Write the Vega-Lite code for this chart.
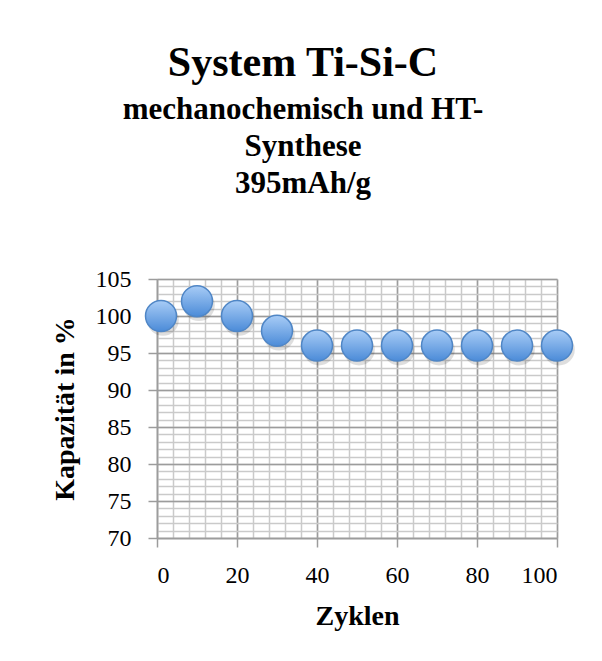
{
  "$schema": "https://vega.github.io/schema/vega-lite/v6.json",
  "width": 400,
  "height": 259,
  "autosize": {"type": "none"},
  "padding": {"left": 157, "top": 279, "right": 45, "bottom": 124},
  "background": "white",
  "title": {
    "text": "System Ti-Si-C",
    "subtitle": ["mechanochemisch und HT-", "Synthese", "395mAh/g"],
    "anchor": "middle",
    "dx": -54,
    "offset": 67,
    "font": "Liberation Serif",
    "fontSize": 42,
    "fontWeight": "bold",
    "color": "black",
    "subtitleFont": "Liberation Serif",
    "subtitleFontSize": 31,
    "subtitleFontWeight": "bold",
    "subtitleColor": "black",
    "subtitleLineHeight": 37,
    "subtitlePadding": 10
  },
  "data": {
    "values": [
      {"Zyklen": 1, "Kapazitaet": 100},
      {"Zyklen": 10, "Kapazitaet": 102},
      {"Zyklen": 20, "Kapazitaet": 100},
      {"Zyklen": 30, "Kapazitaet": 98},
      {"Zyklen": 40, "Kapazitaet": 96},
      {"Zyklen": 50, "Kapazitaet": 96},
      {"Zyklen": 60, "Kapazitaet": 96},
      {"Zyklen": 70, "Kapazitaet": 96},
      {"Zyklen": 80, "Kapazitaet": 96},
      {"Zyklen": 90, "Kapazitaet": 96},
      {"Zyklen": 100, "Kapazitaet": 96}
    ]
  },
  "layer": [
    {
      "mark": {"type": "point", "filled": true, "shape": "circle", "size": 1000, "color": "black", "opacity": 0.13, "xOffset": 2, "yOffset": 4},
      "encoding": {
        "x": {
          "field": "Zyklen", "type": "quantitative",
          "scale": {"domain": [0, 100], "nice": false},
          "axis": {"orient": "bottom", "values": [0,4,8,12,16,20,24,28,32,36,40,44,48,52,56,60,64,68,72,76,80,84,88,92,96,100], "grid": true, "gridColor": "#cacaca", "gridWidth": 1.5, "labels": false, "ticks": false, "domain": false, "title": null}
        },
        "y": {
          "field": "Kapazitaet", "type": "quantitative",
          "scale": {"domain": [70, 105], "nice": false, "zero": false},
          "axis": {"orient": "left", "values": [70,71,72,73,74,75,76,77,78,79,80,81,82,83,84,85,86,87,88,89,90,91,92,93,94,95,96,97,98,99,100,101,102,103,104,105], "grid": true, "gridColor": "#cacaca", "gridWidth": 1.5, "labels": false, "ticks": false, "domain": false, "title": null}
        }
      }
    },
    {
      "mark": {
        "type": "point", "filled": true, "shape": "circle", "size": 960, "opacity": 1,
        "fill": {"gradient": "linear", "x1": 0, "y1": 0, "x2": 0, "y2": 1, "stops": [{"offset": 0, "color": "#a8ccf6"}, {"offset": 1, "color": "#4b8bd8"}]},
        "stroke": "#4f86c6", "strokeWidth": 1.5
      },
      "encoding": {
        "x": {
          "field": "Zyklen", "type": "quantitative",
          "scale": {"domain": [0, 100], "nice": false},
          "axis": {"orient": "bottom", "values": [0,20,40,60,80,100], "grid": true, "gridColor": "#9c9c9c", "gridWidth": 1.5, "domainColor": "#9c9c9c", "domainWidth": 1.5, "tickColor": "#9c9c9c", "tickWidth": 1.5, "tickSize": 9, "labelPadding": 16, "labelFont": "Liberation Serif", "labelFontSize": 24, "labelColor": "black", "title": "Zyklen", "titleFont": "Liberation Serif", "titleFontSize": 28, "titleFontWeight": "bold", "titleColor": "black", "titlePadding": 15}
        },
        "y": {
          "field": "Kapazitaet", "type": "quantitative",
          "scale": {"domain": [70, 105], "nice": false, "zero": false},
          "axis": {"orient": "left", "values": [70,75,80,85,90,95,100,105], "grid": true, "gridColor": "#9c9c9c", "gridWidth": 1.5, "domainColor": "#9c9c9c", "domainWidth": 1.5, "tickColor": "#9c9c9c", "tickWidth": 1.5, "tickSize": 9, "labelPadding": 17, "labelFont": "Liberation Serif", "labelFontSize": 24, "labelColor": "black", "title": "Kapazität in %", "titleFont": "Liberation Serif", "titleFontSize": 28, "titleFontWeight": "bold", "titleColor": "black", "titlePadding": 16}
        }
      }
    }
  ],
  "resolve": {"axis": {"x": "independent", "y": "independent"}},
  "config": {"view": {"stroke": null}}
}
